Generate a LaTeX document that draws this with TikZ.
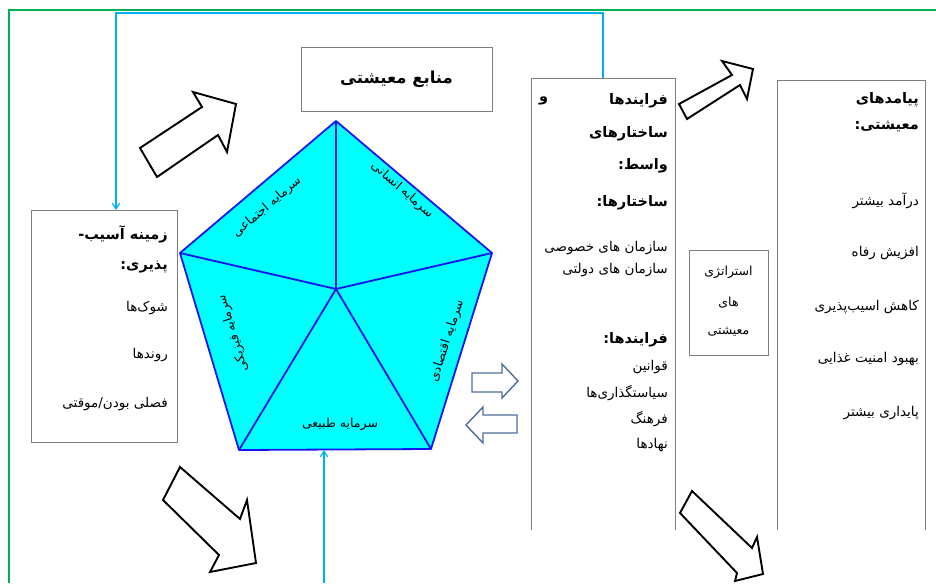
\documentclass[tikz,border=0pt]{standalone}
\usepackage{fontspec}
\newfontfamily\arabicfont[Script=Arabic]{DejaVu Sans}
\TeXXeTstate=1
\usetikzlibrary{arrows.meta,calc}
\definecolor{framegreen}{HTML}{00B050}
\definecolor{linkcyan}{HTML}{00B0F0}
\definecolor{boxgray}{HTML}{7F7F7F}
\definecolor{capblue}{HTML}{1414F0}
\definecolor{capfill}{HTML}{00FFFF}
\definecolor{flowblue}{HTML}{4F6F9A}
\newcommand{\fatext}[1]{{\arabicfont\beginR #1\endR}}
\tikzset{
  frame/.style={draw=framegreen, line width=1.8pt},
  link/.style={draw=linkcyan, line width=1.2pt, -{Straight Barb[length=2mm,width=2.6mm]}},
  infobox/.style={inner sep=0pt, outer sep=0pt},
  boxline/.style={draw=boxgray, line width=0.9pt},
  capital/.style={draw=capblue, line width=1.8pt, fill=capfill, line join=round},
  spoke/.style={draw=capblue, line width=1.8pt},
  caplabel/.style={font=\fontsize{12.5}{14}\selectfont, inner sep=1pt},
  titletext/.style={font=\bfseries\fontsize{16.5}{19}\selectfont, inner sep=0pt},
  headtext/.style={font=\bfseries\fontsize{14.5}{17}\selectfont, anchor=east, inner sep=0pt},
  itemtext/.style={font=\fontsize{13.5}{16}\selectfont, anchor=east, inner sep=0pt},
  midtext/.style={font=\fontsize{12.5}{15}\selectfont, inner sep=0pt},
  bigarrow/.style={draw=black, line width=1.9pt, fill=white, line join=miter},
  flowarrow/.style={draw=flowblue, line width=1.4pt, fill=white, line join=miter}
}

\begin{document}
\begin{tikzpicture}[x=1pt,y=-1pt]
  \useasboundingbox (0,0) rectangle (936,583);

  % Outer frame, cut by the page.
  \draw[frame] (936,10) -| (9,583);

  % Boxes.
  \node[infobox, minimum width=191pt, minimum height=64pt] (title) at (396.5,79) {};
  \node[infobox, minimum width=146pt, minimum height=232pt] (lbox) at (104,326) {};
  \node[infobox, minimum width=144pt, minimum height=452pt] (mbox) at (603,304) {};
  \node[infobox, minimum width=79pt, minimum height=105pt] (sbox) at (728.5,302.5) {};
  \node[infobox, minimum width=148pt, minimum height=450pt] (rbox) at (851,305) {};
  \draw[boxline] (title.south west) rectangle (title.north east);
  \draw[boxline] (lbox.south west) rectangle (lbox.north east);
  \draw[boxline] (sbox.south west) rectangle (sbox.north east);
  \draw[boxline] (mbox.south west) -- (mbox.north west) -- (mbox.north east) -- (mbox.south east);
  \draw[boxline] (rbox.south west) -- (rbox.north west) -- (rbox.north east) -- (rbox.south east);

  % Livelihood capitals pentagon.
  \coordinate (ptop) at (336,121);
  \coordinate (pright) at (492,253);
  \coordinate (pbr) at (431,449);
  \coordinate (pbl) at (239,450);
  \coordinate (pleft) at (180,253);
  \coordinate (pmid) at (336,289);
  \draw[capital] (ptop) -- (pright) -- (pbr) -- (pbl) -- (pleft) -- cycle;
  \foreach \v in {ptop,pright,pbr,pbl,pleft} {
    \draw[spoke] (pmid) -- (\v);
  }
  \node[caplabel, rotate=41] (social) at (267,207) {\fatext{سرمایه اجتماعی}};
  \node[caplabel, rotate=-41] (human) at (402,190) {\fatext{سرمایه انسانی}};
  \node[caplabel, rotate=72] (economic) at (447,341) {\fatext{سرمایه اقتصادی}};
  \node[caplabel, rotate=107] (physical) at (233,333) {\fatext{سرمایه فیزیکی}};
  \node[caplabel] (natural) at (340,424) {\fatext{سرمایه طبیعی}};

  % Box texts.
  \node[titletext] (titletxt) at (title.center) {\fatext{منابع معیشتی}};

  \node[headtext] at (168,234) {\fatext{زمینه آسیب-}};
  \node[headtext] at (168,267) {\fatext{پذیری:}};
  \node[itemtext] at (168,308) {\fatext{شوک‌ها}};
  \node[itemtext] at (168,355) {\fatext{روندها}};
  \node[itemtext] at (168,404) {\fatext{فصلی بودن/موقتی}};

  \node[headtext] at (668,101) {\fatext{فرایندها}};
  \node[headtext, anchor=west] at (539,101) {\fatext{و}};
  \node[headtext] at (668,134) {\fatext{ساختارهای}};
  \node[headtext] at (668,166) {\fatext{واسط:}};
  \node[headtext] at (668,203) {\fatext{ساختارها:}};
  \node[itemtext] at (668,248) {\fatext{سازمان های خصوصی}};
  \node[itemtext] at (668,270) {\fatext{سازمان های دولتی}};
  \node[headtext] at (668,340) {\fatext{فرایندها:}};
  \node[itemtext] at (668,367) {\fatext{قوانین}};
  \node[itemtext] at (668,393) {\fatext{سیاستگذاری‌ها}};
  \node[itemtext] at (668,419) {\fatext{فرهنگ}};
  \node[itemtext] at (668,445) {\fatext{نهادها}};

  \node[midtext] at (728.5,272) {\fatext{استراتژی}};
  \node[midtext] at (728.5,303) {\fatext{های}};
  \node[midtext] at (728.5,332) {\fatext{معیشتی}};

  \node[headtext] at (919,100) {\fatext{پیامدهای}};
  \node[headtext] at (919,126) {\fatext{معیشتی:}};
  \node[itemtext] at (919,201) {\fatext{درآمد بیشتر}};
  \node[itemtext] at (919,253) {\fatext{افزیش رفاه}};
  \node[itemtext] at (919,307) {\fatext{کاهش اسیب‌پذیری}};
  \node[itemtext] at (919,359) {\fatext{بهبود امنیت غذایی}};
  \node[itemtext] at (919,413) {\fatext{پایداری بیشتر}};

  % Cyan feedback links.
  \coordinate (topbend) at (116,13);
  \coordinate (botfoot) at (324,583);
  \draw[link] (mbox.north) |- (topbend) -- (topbend |- lbox.north);
  \draw[link] (botfoot) -- (botfoot |- pbl);

  % Block arrows.
  \draw[bigarrow] (140,148) -- (202,107) -- (193,92) -- (236,104) --
                  (227,152) -- (218,135) -- (157,177) -- cycle;
  \draw[bigarrow] (679,104) -- (732,75) -- (722,61) -- (753,69) --
                  (747,99) -- (740,85) -- (687,119) -- cycle;
  \draw[bigarrow] (180,467) -- (240,519) -- (247,500) -- (256,563) --
                  (210,572) -- (219,555) -- (163,500) -- cycle;
  \draw[bigarrow] (692,491) -- (752,548) -- (757,537) -- (763,574) --
                  (735,581) -- (737,573) -- (680,513) -- cycle;

  % Two-way flow arrows.
  \draw[flowarrow] (472,373) -- (502,373) -- (502,364) -- (518,381) --
                   (502,398) -- (502,392) -- (472,392) -- cycle;
  \draw[flowarrow] (517,415) -- (483,415) -- (483,407) -- (466,425) --
                   (483,443) -- (483,433) -- (517,433) -- cycle;
\end{tikzpicture}
\end{document}
